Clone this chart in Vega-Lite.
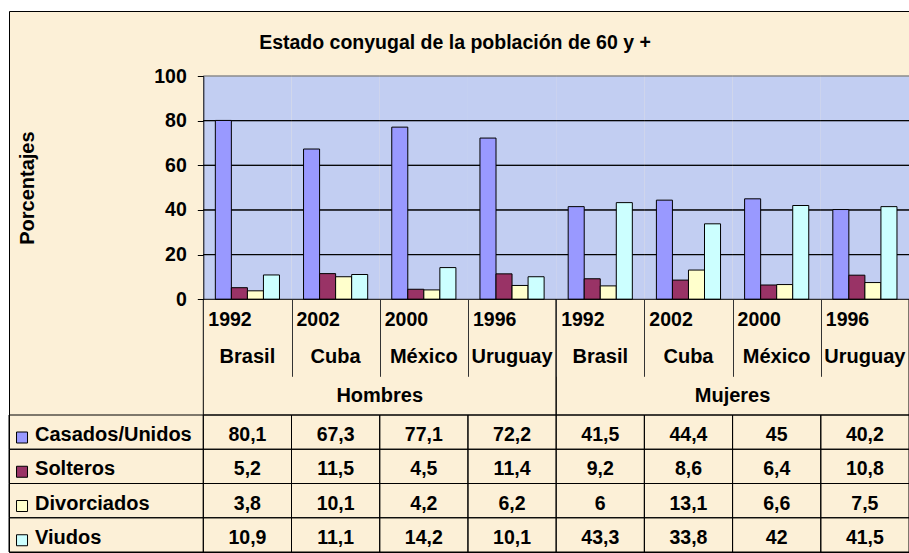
{
  "$schema": "https://vega.github.io/schema/vega-lite/v6.json",
  "width": 900,
  "height": 541,
  "autosize": {"type": "none"},
  "padding": {"left": 9, "top": 11, "right": 0, "bottom": 1},
  "background": "white",
  "config": {
    "view": {"fill": "#FCF0D7", "stroke": "black", "strokeWidth": 1},
    "locale": {"number": {"decimal": ",", "thousands": ".", "grouping": [3], "currency": ["", " €"]}},
    "text": {"font": "Liberation Sans", "fontWeight": "bold", "color": "black"}
  },
  "title": {
    "text": "Estado conyugal de la población de 60 y +",
    "frame": "group",
    "anchor": "middle",
    "offset": -57,
    "baseline": "alphabetic",
    "dx": -4,
    "font": "Liberation Sans",
    "fontSize": 19.5,
    "fontWeight": "bold",
    "color": "black"
  },
  "datasets": {
    "bars": [
      {"cat": "H-Brasil", "status": "Casados/Unidos", "v": 80.1},
      {"cat": "H-Brasil", "status": "Solteros", "v": 5.2},
      {"cat": "H-Brasil", "status": "Divorciados", "v": 3.8},
      {"cat": "H-Brasil", "status": "Viudos", "v": 10.9},
      {"cat": "H-Cuba", "status": "Casados/Unidos", "v": 67.3},
      {"cat": "H-Cuba", "status": "Solteros", "v": 11.5},
      {"cat": "H-Cuba", "status": "Divorciados", "v": 10.1},
      {"cat": "H-Cuba", "status": "Viudos", "v": 11.1},
      {"cat": "H-México", "status": "Casados/Unidos", "v": 77.1},
      {"cat": "H-México", "status": "Solteros", "v": 4.5},
      {"cat": "H-México", "status": "Divorciados", "v": 4.2},
      {"cat": "H-México", "status": "Viudos", "v": 14.2},
      {"cat": "H-Uruguay", "status": "Casados/Unidos", "v": 72.2},
      {"cat": "H-Uruguay", "status": "Solteros", "v": 11.4},
      {"cat": "H-Uruguay", "status": "Divorciados", "v": 6.2},
      {"cat": "H-Uruguay", "status": "Viudos", "v": 10.1},
      {"cat": "M-Brasil", "status": "Casados/Unidos", "v": 41.5},
      {"cat": "M-Brasil", "status": "Solteros", "v": 9.2},
      {"cat": "M-Brasil", "status": "Divorciados", "v": 6},
      {"cat": "M-Brasil", "status": "Viudos", "v": 43.3},
      {"cat": "M-Cuba", "status": "Casados/Unidos", "v": 44.4},
      {"cat": "M-Cuba", "status": "Solteros", "v": 8.6},
      {"cat": "M-Cuba", "status": "Divorciados", "v": 13.1},
      {"cat": "M-Cuba", "status": "Viudos", "v": 33.8},
      {"cat": "M-México", "status": "Casados/Unidos", "v": 45},
      {"cat": "M-México", "status": "Solteros", "v": 6.4},
      {"cat": "M-México", "status": "Divorciados", "v": 6.6},
      {"cat": "M-México", "status": "Viudos", "v": 42},
      {"cat": "M-Uruguay", "status": "Casados/Unidos", "v": 40.2},
      {"cat": "M-Uruguay", "status": "Solteros", "v": 10.8},
      {"cat": "M-Uruguay", "status": "Divorciados", "v": 7.5},
      {"cat": "M-Uruguay", "status": "Viudos", "v": 41.5}
    ],
    "cats": [
      {"cat": "H-Brasil", "country": "Brasil", "year": "1992"},
      {"cat": "H-Cuba", "country": "Cuba", "year": "2002"},
      {"cat": "H-México", "country": "México", "year": "2000"},
      {"cat": "H-Uruguay", "country": "Uruguay", "year": "1996"},
      {"cat": "M-Brasil", "country": "Brasil", "year": "1992"},
      {"cat": "M-Cuba", "country": "Cuba", "year": "2002"},
      {"cat": "M-México", "country": "México", "year": "2000"},
      {"cat": "M-Uruguay", "country": "Uruguay", "year": "1996"}
    ],
    "grid": [
      {"cat": "H-Brasil", "g": 20}, {"cat": "H-Brasil", "g": 40}, {"cat": "H-Brasil", "g": 60}, {"cat": "H-Brasil", "g": 80},
      {"cat": "H-Cuba", "g": 20}, {"cat": "H-Cuba", "g": 40}, {"cat": "H-Cuba", "g": 60}, {"cat": "H-Cuba", "g": 80},
      {"cat": "H-México", "g": 20}, {"cat": "H-México", "g": 40}, {"cat": "H-México", "g": 60}, {"cat": "H-México", "g": 80},
      {"cat": "H-Uruguay", "g": 20}, {"cat": "H-Uruguay", "g": 40}, {"cat": "H-Uruguay", "g": 60}, {"cat": "H-Uruguay", "g": 80},
      {"cat": "M-Brasil", "g": 20}, {"cat": "M-Brasil", "g": 40}, {"cat": "M-Brasil", "g": 60}, {"cat": "M-Brasil", "g": 80},
      {"cat": "M-Cuba", "g": 20}, {"cat": "M-Cuba", "g": 40}, {"cat": "M-Cuba", "g": 60}, {"cat": "M-Cuba", "g": 80},
      {"cat": "M-México", "g": 20}, {"cat": "M-México", "g": 40}, {"cat": "M-México", "g": 60}, {"cat": "M-México", "g": 80},
      {"cat": "M-Uruguay", "g": 20}, {"cat": "M-Uruguay", "g": 40}, {"cat": "M-Uruguay", "g": 60}, {"cat": "M-Uruguay", "g": 80}
    ],
    "sexes": [{"sex": "Hombres"}, {"sex": "Mujeres"}],
    "statuses": [{"status": "Casados/Unidos"}, {"status": "Solteros"}, {"status": "Divorciados"}, {"status": "Viudos"}]
  },
  "layer": [
    {
      "data": {"name": "cats"},
      "mark": {"type": "rect", "fill": "#C2CEF2", "strokeWidth": 0},
      "encoding": {
        "x": {"field": "cat", "type": "nominal", "axis": null, "scale": {"type": "band", "domain": ["H-Brasil", "H-Cuba", "H-México", "H-Uruguay", "M-Brasil", "M-Cuba", "M-México", "M-Uruguay"], "range": [194.3, 900], "paddingInner": 0, "paddingOuter": 0}},
        "y": {"datum": 100, "type": "quantitative", "axis": null, "scale": {"domain": [0, 100], "range": [288.3, 65], "nice": false, "zero": false}},
        "y2": {"datum": 0}
      }
    },
    {
      "data": {"name": "grid"},
      "mark": {"type": "rect", "fill": "transparent", "stroke": "black", "strokeWidth": 1},
      "encoding": {
        "x": {"field": "cat", "type": "nominal", "axis": null, "scale": {"type": "band", "domain": ["H-Brasil", "H-Cuba", "H-México", "H-Uruguay", "M-Brasil", "M-Cuba", "M-México", "M-Uruguay"], "range": [194.3, 900], "paddingInner": 0, "paddingOuter": 0}},
        "y": {"field": "g", "type": "quantitative", "axis": null, "scale": {"domain": [0, 100], "range": [288.3, 65], "nice": false, "zero": false}},
        "y2": {"field": "g"}
      }
    },
    {
      "data": {"name": "cats"},
      "mark": {"type": "rect", "fill": "transparent", "stroke": "#8c8c8c", "strokeWidth": 1},
      "encoding": {
        "x": {"field": "cat", "type": "nominal", "axis": null, "scale": {"type": "band", "domain": ["H-Brasil", "H-Cuba", "H-México", "H-Uruguay", "M-Brasil", "M-Cuba", "M-México", "M-Uruguay"], "range": [194.3, 900], "paddingInner": 0, "paddingOuter": 0}},
        "y": {"datum": 100, "type": "quantitative", "axis": null, "scale": {"domain": [0, 100], "range": [288.3, 65], "nice": false, "zero": false}},
        "y2": {"datum": 100}
      }
    },
    {
      "data": {"name": "bars"},
      "mark": {"type": "bar", "stroke": "black", "strokeWidth": 1},
      "encoding": {
        "x": {"field": "cat", "type": "nominal", "scale": {"type": "band", "domain": ["H-Brasil", "H-Cuba", "H-México", "H-Uruguay", "M-Brasil", "M-Cuba", "M-México", "M-Uruguay"], "range": [194.3, 900], "paddingInner": 0, "paddingOuter": 0},
          "axis": {"orient": "bottom", "offset": -252.7, "tickBand": "extent", "tickSize": 77, "tickColor": "#333333", "tickWidth": 1, "labels": false, "domain": false, "title": null, "grid": false, "zindex": 1}},
        "xOffset": {"field": "status", "type": "nominal", "scale": {"domain": ["Casados/Unidos", "Solteros", "Divorciados", "Viudos"], "paddingInner": 0, "paddingOuter": 0.75}},
        "y": {"field": "v", "type": "quantitative", "scale": {"domain": [0, 100], "range": [288.3, 65], "nice": false, "zero": false},
          "axis": {"orient": "left", "offset": -194.3, "values": [0, 20, 40, 60, 80, 100], "grid": false, "tickSize": 6, "tickColor": "black", "tickWidth": 1, "domainColor": "black", "domainWidth": 1,
            "labelFont": "Liberation Sans", "labelFontWeight": "bold", "labelFontSize": 19.5, "labelColor": "black", "labelPadding": 11, "labelFlush": false, "labelOverlap": false,
            "title": "Porcentajes", "titleFont": "Liberation Sans", "titleFontWeight": "bold", "titleFontSize": 20, "titleColor": "black", "titleX": -170.3, "titleBaseline": "alphabetic", "zindex": 1}},
        "color": {"field": "status", "type": "nominal", "legend": null, "scale": {"domain": ["Casados/Unidos", "Solteros", "Divorciados", "Viudos"], "range": ["#9999FF", "#993366", "#FFFFCC", "#CCFFFF"]}}
      }
    },
    {
      "data": {"name": "sexes"},
      "mark": {"type": "rect", "fill": "transparent", "stroke": "black", "strokeWidth": 1},
      "encoding": {
        "x": {"field": "sex", "type": "nominal", "axis": null, "scale": {"type": "band", "domain": ["Hombres", "Mujeres"], "range": [194.3, 900], "paddingInner": 0, "paddingOuter": 0}},
        "y": {"datum": "h", "type": "nominal", "axis": null, "scale": {"type": "band", "domain": ["h"], "range": [288.3, 404], "paddingInner": 0, "paddingOuter": 0}}
      }
    },
    {
      "data": {"name": "bars"},
      "mark": {"type": "rect", "fill": "transparent", "stroke": "black", "strokeWidth": 1},
      "encoding": {
        "x": {"field": "cat", "type": "nominal", "axis": null, "scale": {"type": "band", "domain": ["H-Brasil", "H-Cuba", "H-México", "H-Uruguay", "M-Brasil", "M-Cuba", "M-México", "M-Uruguay"], "range": [194.3, 900], "paddingInner": 0, "paddingOuter": 0}},
        "y": {"field": "status", "type": "nominal", "axis": null, "scale": {"type": "band", "domain": ["Casados/Unidos", "Solteros", "Divorciados", "Viudos"], "range": [404, 541], "paddingInner": 0, "paddingOuter": 0}}
      }
    },
    {
      "data": {"name": "statuses"},
      "mark": {"type": "rect", "fill": "transparent", "stroke": "black", "strokeWidth": 1},
      "encoding": {
        "x": {"datum": "lbl", "type": "nominal", "axis": null, "scale": {"type": "band", "domain": ["lbl"], "range": [0, 194.3], "paddingInner": 0, "paddingOuter": 0}},
        "y": {"field": "status", "type": "nominal", "axis": null, "scale": {"type": "band", "domain": ["Casados/Unidos", "Solteros", "Divorciados", "Viudos"], "range": [404, 541], "paddingInner": 0, "paddingOuter": 0}}
      }
    },
    {
      "data": {"name": "cats"},
      "mark": {"type": "text", "align": "left", "baseline": "middle", "dx": 5, "dy": 1, "fontSize": 19.5},
      "encoding": {
        "x": {"field": "cat", "type": "nominal", "axis": null, "bandPosition": 0, "scale": {"type": "band", "domain": ["H-Brasil", "H-Cuba", "H-México", "H-Uruguay", "M-Brasil", "M-Cuba", "M-México", "M-Uruguay"], "range": [194.3, 900], "paddingInner": 0, "paddingOuter": 0}},
        "y": {"datum": "year", "type": "nominal", "axis": null, "scale": {"type": "band", "domain": ["year", "country", "sex"], "range": [288.3, 404], "paddingInner": 0, "paddingOuter": 0}},
        "text": {"field": "year"}
      }
    },
    {
      "data": {"name": "cats"},
      "mark": {"type": "text", "align": "center", "baseline": "middle", "fontSize": 20},
      "encoding": {
        "x": {"field": "cat", "type": "nominal", "axis": null, "scale": {"type": "band", "domain": ["H-Brasil", "H-Cuba", "H-México", "H-Uruguay", "M-Brasil", "M-Cuba", "M-México", "M-Uruguay"], "range": [194.3, 900], "paddingInner": 0, "paddingOuter": 0}},
        "y": {"datum": "country", "type": "nominal", "axis": null, "scale": {"type": "band", "domain": ["year", "country", "sex"], "range": [288.3, 404], "paddingInner": 0, "paddingOuter": 0}},
        "text": {"field": "country"}
      }
    },
    {
      "data": {"name": "sexes"},
      "mark": {"type": "text", "align": "center", "baseline": "middle", "fontSize": 20},
      "encoding": {
        "x": {"field": "sex", "type": "nominal", "axis": null, "scale": {"type": "band", "domain": ["Hombres", "Mujeres"], "range": [194.3, 900], "paddingInner": 0, "paddingOuter": 0}},
        "y": {"datum": "sex", "type": "nominal", "axis": null, "scale": {"type": "band", "domain": ["year", "country", "sex"], "range": [288.3, 404], "paddingInner": 0, "paddingOuter": 0}},
        "text": {"field": "sex"}
      }
    },
    {
      "data": {"name": "bars"},
      "mark": {"type": "text", "align": "center", "baseline": "middle", "dy": 3, "fontSize": 19.5},
      "encoding": {
        "x": {"field": "cat", "type": "nominal", "axis": null, "scale": {"type": "band", "domain": ["H-Brasil", "H-Cuba", "H-México", "H-Uruguay", "M-Brasil", "M-Cuba", "M-México", "M-Uruguay"], "range": [194.3, 900], "paddingInner": 0, "paddingOuter": 0}},
        "y": {"field": "status", "type": "nominal", "axis": null, "scale": {"type": "band", "domain": ["Casados/Unidos", "Solteros", "Divorciados", "Viudos"], "range": [404, 541], "paddingInner": 0, "paddingOuter": 0}},
        "text": {"field": "v", "type": "quantitative", "format": "~r"}
      }
    },
    {
      "data": {"name": "statuses"},
      "mark": {"type": "point", "shape": "square", "filled": true, "size": 121, "stroke": "black", "strokeWidth": 1, "opacity": 1},
      "encoding": {
        "x": {"datum": "lbl", "type": "nominal", "axis": null, "bandPosition": 0.067, "scale": {"type": "band", "domain": ["lbl"], "range": [0, 194.3], "paddingInner": 0, "paddingOuter": 0}},
        "y": {"field": "status", "type": "nominal", "axis": null, "bandPosition": 0.657, "scale": {"type": "band", "domain": ["Casados/Unidos", "Solteros", "Divorciados", "Viudos"], "range": [404, 541], "paddingInner": 0, "paddingOuter": 0}},
        "color": {"field": "status", "type": "nominal", "legend": null, "scale": {"domain": ["Casados/Unidos", "Solteros", "Divorciados", "Viudos"], "range": ["#9999FF", "#993366", "#FFFFCC", "#CCFFFF"]}}
      }
    },
    {
      "data": {"name": "statuses"},
      "mark": {"type": "text", "align": "left", "baseline": "middle", "dy": 3, "fontSize": 20},
      "encoding": {
        "x": {"datum": "lbl", "type": "nominal", "axis": null, "bandPosition": 0.134, "scale": {"type": "band", "domain": ["lbl"], "range": [0, 194.3], "paddingInner": 0, "paddingOuter": 0}},
        "y": {"field": "status", "type": "nominal", "axis": null, "scale": {"type": "band", "domain": ["Casados/Unidos", "Solteros", "Divorciados", "Viudos"], "range": [404, 541], "paddingInner": 0, "paddingOuter": 0}},
        "text": {"field": "status"}
      }
    }
  ],
  "resolve": {"scale": {"x": "independent", "y": "independent"}}
}
